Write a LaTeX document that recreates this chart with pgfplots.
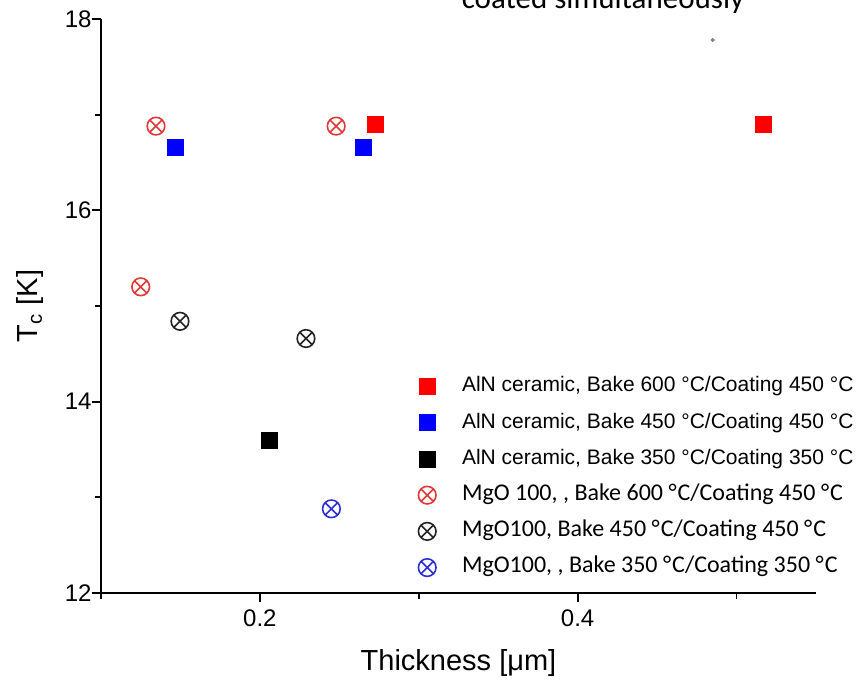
\documentclass[border=0pt]{standalone}
\usepackage{fontspec}
\setmainfont{Liberation Sans}
\newfontfamily\calibri{Carlito}
\usepackage{pgfplots}
\pgfplotsset{compat=1.18}
\definecolor{sqred}{RGB}{255,0,0}
\definecolor{sqblue}{RGB}{0,0,255}
\definecolor{otred}{RGB}{225,55,55}
\definecolor{otblack}{RGB}{35,35,35}
\definecolor{otblue}{RGB}{45,45,215}
\newcommand{\dC}{°\kern0.5pt C}
\begin{document}
\begin{tikzpicture}
\begin{axis}[
  at={(0,0)}, anchor=south west,
  scale only axis,
  width=357.5pt, height=287pt,
  xmin=0.1, xmax=0.55, ymin=12, ymax=18,
  axis lines=left,
  axis line style={-, line width=0.9pt},
  tick style={line width=0.9pt, black},
  tick align=outside,
  major tick length=4.7pt, minor tick length=3pt,
  xtick={0.2,0.4}, minor xtick={0.1,0.3,0.5},
  ytick={12,14,16,18}, minor ytick={13,15,17},
  xticklabels={0.2,0.4},
  yticklabels={12,14,16,18},
  tick label style={font=\fontsize{12}{14}\selectfont},
  yticklabel style={xshift=3.5pt},
  xlabel={Thickness [μm]},
  ylabel={T\textsubscript{c} [K]},
  label style={font=\fontsize{14.5}{16}\selectfont},
  xlabel style={at={(0.5,0)}, anchor=center, yshift=-35pt},
  ylabel style={at={(0,0.5)}, anchor=center, yshift=35.5pt},
  clip=false,
  legend cell align=left,
  legend style={at={(0.435,0.392)}, anchor=north west, draw=none, fill=none,
    font=\fontsize{10.5}{12}\selectfont, row sep=3.9pt, column sep=11pt,
    nodes={text height=7.8pt, text depth=2.4pt}},
]
\addplot[only marks, mark=square*, mark size=4pt, color=sqred] coordinates {(0.273,16.90) (0.517,16.90)};
\addlegendentry{AlN ceramic, Bake 600 °C/Coating 450 °C}
\addplot[only marks, mark=square*, mark size=4pt, color=sqblue] coordinates {(0.1466,16.66) (0.265,16.66)};
\addlegendentry{AlN ceramic, Bake 450 °C/Coating 450 °C}
\addplot[only marks, mark=square*, mark size=4pt, color=black] coordinates {(0.2057,13.60)};
\addlegendentry{AlN ceramic, Bake 350 °C/Coating 350 °C}
\addplot[only marks, mark=otimes, mark size=4.4pt, line width=0.8pt, color=otred] coordinates {(0.1346,16.88) (0.248,16.88) (0.125,15.20)};
\addlegendentry{\calibri\fontsize{12}{14}\selectfont MgO 100, , Bake 600 \dC/Coating 450 \dC}
\addplot[only marks, mark=otimes, mark size=4.4pt, line width=0.8pt, color=otblack] coordinates {(0.1497,14.84) (0.229,14.66)};
\addlegendentry{\calibri\fontsize{12}{14}\selectfont MgO100, Bake 450 \dC/Coating 450 \dC}
\addplot[only marks, mark=otimes, mark size=4.4pt, line width=0.8pt, color=otblue] coordinates {(0.245,12.88)};
\addlegendentry{\calibri\fontsize{12}{14}\selectfont MgO100, , Bake 350 \dC/Coating 350 \dC}
\addplot[only marks, mark=*, mark size=0.8pt, color=gray, forget plot] coordinates {(0.485,17.78)};
\end{axis}
\node[anchor=base, font=\calibri\fontsize{15.5}{18}\selectfont] at (251pt,292pt) {coated simultaneously};
\pgfresetboundingbox
\path[use as bounding box] (-50.5pt,-45pt) rectangle (378.5pt,296.5pt);
\end{tikzpicture}
\end{document}
